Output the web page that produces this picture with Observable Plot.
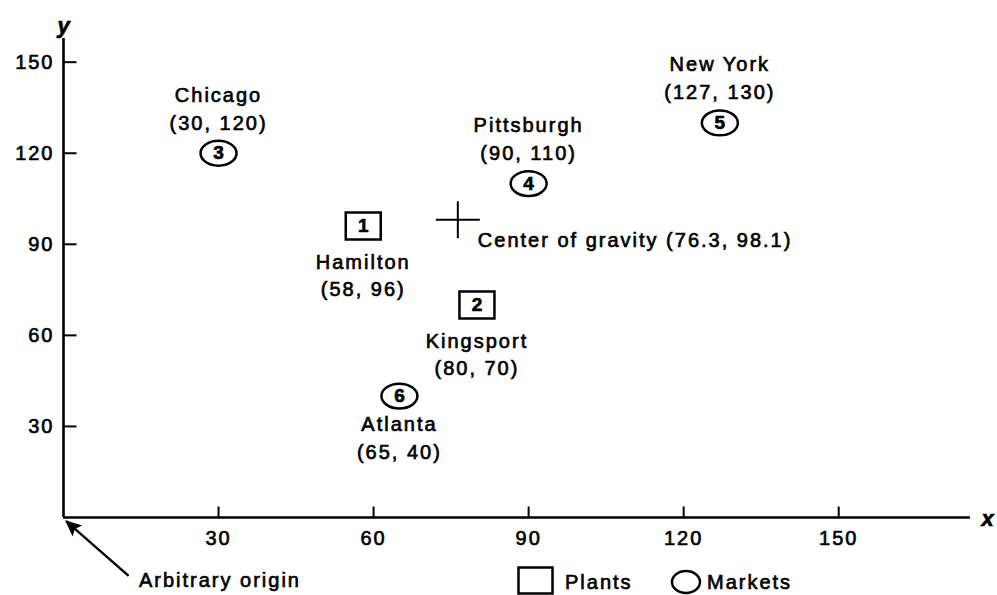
<!DOCTYPE html>
<html>
<head>
<meta charset="utf-8">
<script src="https://cdn.jsdelivr.net/npm/d3@7"></script>
<script src="https://cdn.jsdelivr.net/npm/@observablehq/plot@0.6"></script>
<style>
  html, body { margin: 0; padding: 0; background: #fff; }
  #wrap { position: relative; width: 997px; height: 595px; overflow: hidden; }
  #chart svg text { letter-spacing: 2px; stroke: #000; stroke-width: 0.65px; }
  .lg { position: absolute; font-family: "Liberation Sans", Arial, sans-serif; font-size: 20px;
        line-height: 20px; letter-spacing: 2px; color: #000; -webkit-text-stroke: 0.65px #000; white-space: nowrap; }
</style>
</head>
<body>
<div id="wrap"><div id="chart"></div><div id="legend"></div></div>
<script>
// ---- data ----
const plantNames = ["Hamilton", "Kingsport"];
const plantIds = [1, 2];
const plantX = [58, 80];
const plantY = [96, 70];

const marketNames = ["Chicago", "Pittsburgh", "New York", "Atlanta"];
const marketIds = [3, 4, 5, 6];
const marketX = [30, 90, 127, 65];
const marketY = [120, 110, 130, 40];

const centerLabel = "Center of gravity";
const centerX = 76.3;
const centerY = 98.1;

const xTicks = [30, 60, 90, 120, 150];
const yTicks = [30, 60, 90, 120, 150];
const xMax = 175.5;
const yMax = 157.8;

const originLabel = "Arbitrary origin";
const originArrowFrom = [12.6, -19.2];
const originArrowTo = [0.5, -1.2];
const originTextAt = [14.6, -20.9];

const legendLabels = ["Plants", "Markets"];
const marketsLabelledBelow = ["Atlanta"];

// ---- tables ----
const plants = plantNames.map((name, i) => ({name, id: plantIds[i], x: plantX[i], y: plantY[i]}));
const markets = marketNames.map((name, i) => ({name, id: marketIds[i], x: marketX[i], y: marketY[i]}));
const coord = d => `(${d.x}, ${d.y})`;
const marketsAbove = markets.filter(d => !marketsLabelledBelow.includes(d.name));
const marketsBelow = markets.filter(d => marketsLabelledBelow.includes(d.name));
const center = [{x: centerX, y: centerY}];
const originArrow = [{x1: originArrowFrom[0], y1: originArrowFrom[1], x2: originArrowTo[0], y2: originArrowTo[1]}];

// plot frame
const W = 997, H = 595, mL = 63, mR = 27, mT = 38, mB = 78;
const kx = (W - mL - mR) / xMax, ky = (H - mT - mB) / yMax;
const arrowAngle = Math.atan2(-(originArrowTo[1] - originArrowFrom[1]) * ky, (originArrowTo[0] - originArrowFrom[0]) * kx) * 180 / Math.PI;

// ---- custom symbols ----
const rad = size => Math.sqrt(size / Math.PI);
const rectSym = {draw(c, size) { const r = rad(size), h = r * 0.77; c.rect(-r, -h, 2 * r, 2 * h); }};
const ellipseSym = {draw(c, size) {
  const rx = rad(size), ry = rx * 0.69, k = 0.5523;
  c.moveTo(rx, 0);
  c.bezierCurveTo(rx, ry * k, rx * k, ry, 0, ry);
  c.bezierCurveTo(-rx * k, ry, -rx, ry * k, -rx, 0);
  c.bezierCurveTo(-rx, -ry * k, -rx * k, -ry, 0, -ry);
  c.bezierCurveTo(rx * k, -ry, rx, -ry * k, rx, 0);
  c.closePath();
}};
const crossSym = {draw(c, size) { const r = rad(size); c.moveTo(-r, 0); c.lineTo(r, 0); c.moveTo(0, -0.84 * r); c.lineTo(0, 0.84 * r); }};
const tickUp = {draw(c, size) { const r = rad(size); c.moveTo(0, 0); c.lineTo(0, -r); }};
const tickRight = {draw(c, size) { const r = rad(size); c.moveTo(0, 0); c.lineTo(r, 0); }};
const headSym = {draw(c, size) { const r = rad(size); c.moveTo(0, 0); c.lineTo(-r, -r * 0.45); c.lineTo(-r * 0.8, 0); c.lineTo(-r, r * 0.45); c.closePath(); }};

const font = "'Liberation Sans', Arial, sans-serif";

const chart = Plot.plot({
  width: W,
  height: H,
  marginLeft: mL,
  marginRight: mR,
  marginTop: mT,
  marginBottom: mB,
  style: {fontFamily: font, fontSize: "20px", color: "#000", background: "#fff", overflow: "visible"},
  x: {domain: [0, xMax]},
  y: {domain: [0, yMax]},
  marks: [
    // axes
    Plot.ruleY([0], {stroke: "#000", strokeWidth: 2.6}),
    Plot.ruleX([0], {stroke: "#000", strokeWidth: 2.6}),
    Plot.dot(xTicks, {x: d => d, y: () => 0, symbol: tickUp, r: 11, fill: "none", stroke: "#000", strokeWidth: 2}),
    Plot.dot(yTicks, {x: () => 0, y: d => d, symbol: tickRight, r: 13, fill: "none", stroke: "#000", strokeWidth: 2}),
    Plot.axisX(xTicks, {tickSize: 0, tickPadding: 13, label: null, fontSize: 20}),
    Plot.axisY(yTicks, {tickSize: 0, tickPadding: 9, label: null, fontSize: 20}),
    Plot.text(["x"], {x: () => xMax, y: () => 0, dx: 18, dy: 1, fontSize: 22, fontStyle: "italic", fontWeight: "bold"}),
    Plot.text(["y"], {x: () => 0, y: () => yMax, dx: 1, dy: -13, fontSize: 22, fontStyle: "italic", fontWeight: "bold"}),

    // plants
    Plot.dot(plants, {x: "x", y: "y", symbol: rectSym, r: 17.5, fill: "none", stroke: "#000", strokeWidth: 2.5}),
    Plot.text(plants, {x: "x", y: "y", text: d => String(d.id), dx: 1, fontSize: 19, fontWeight: "bold"}),
    Plot.text(plants, {x: "x", y: "y", text: "name", dy: 37, fontSize: 20}),
    Plot.text(plants, {x: "x", y: "y", text: coord, dy: 64, fontSize: 20}),

    // markets
    Plot.dot(markets, {x: "x", y: "y", symbol: ellipseSym, r: 18, fill: "none", stroke: "#000", strokeWidth: 2.5}),
    Plot.text(markets, {x: "x", y: "y", text: d => String(d.id), dx: 1, fontSize: 19, fontWeight: "bold"}),
    Plot.text(marketsAbove, {x: "x", y: "y", text: "name", dy: -58, fontSize: 20}),
    Plot.text(marketsAbove, {x: "x", y: "y", text: coord, dy: -30, fontSize: 20}),
    Plot.text(marketsBelow, {x: "x", y: "y", text: "name", dy: 29, fontSize: 20}),
    Plot.text(marketsBelow, {x: "x", y: "y", text: coord, dy: 57, fontSize: 20}),

    // center of gravity
    Plot.dot(center, {x: "x", y: "y", symbol: crossSym, r: 22, fill: "none", stroke: "#000", strokeWidth: 2}),
    Plot.text(center, {x: "x", y: "y", text: d => `${centerLabel} (${d.x}, ${d.y})`, textAnchor: "start", dx: 20, dy: 21, fontSize: 20}),

    // arbitrary origin annotation
    Plot.link(originArrow, {x1: "x1", y1: "y1", x2: "x2", y2: "y2", stroke: "#000", strokeWidth: 2.4}),
    Plot.dot(originArrow, {x: "x2", y: "y2", symbol: headSym, r: 14, rotate: arrowAngle, fill: "#000", stroke: "#000", strokeWidth: 1}),
    Plot.text([originLabel], {x: () => originTextAt[0], y: () => originTextAt[1], textAnchor: "start", fontSize: 20})
  ]
});
document.getElementById("chart").appendChild(chart);

// legend (below the plot area)
const legend = document.getElementById("legend");
legend.innerHTML = `
  <svg style="position:absolute;left:517px;top:566px" width="38" height="30">
    <rect x="1.5" y="1.5" width="34" height="26" fill="none" stroke="#000" stroke-width="2.5"/>
  </svg>
  <span class="lg" style="left:565px;top:572px">${legendLabels[0]}</span>
  <svg style="position:absolute;left:670px;top:569px" width="32" height="26">
    <ellipse cx="16" cy="13" rx="14" ry="11" fill="none" stroke="#000" stroke-width="2.5"/>
  </svg>
  <span class="lg" style="left:707px;top:572px">${legendLabels[1]}</span>`;
</script>
</body>
</html>
